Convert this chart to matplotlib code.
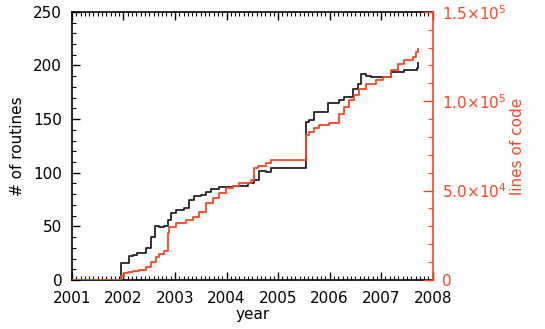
import numpy as np
import matplotlib
matplotlib.use("Agg")
import matplotlib.pyplot as plt
from matplotlib.ticker import MultipleLocator, FuncFormatter

# number of routines vs time (step changes)
routine_years = [2001.0, 2001.951, 2002.100, 2002.177, 2002.255, 2002.436, 2002.533,
                 2002.604, 2002.695, 2002.792, 2002.856, 2002.921, 2003.018, 2003.180,
                 2003.277, 2003.374, 2003.503, 2003.600, 2003.697, 2003.859, 2004.118,
                 2004.409, 2004.538, 2004.635, 2004.765, 2004.862, 2005.541, 2005.605,
                 2005.702, 2005.961, 2006.188, 2006.285, 2006.446, 2006.543, 2006.608,
                 2006.705, 2006.802, 2007.190, 2007.449, 2007.690, 2007.708]
routines = [0, 16, 22, 23, 25, 30, 40, 50, 49, 50, 56, 62, 65, 67, 75, 78, 79, 82, 85,
            87, 88, 90, 93, 102, 101, 104, 147, 149, 157, 165, 168, 171, 178, 183, 192,
            190, 189, 194, 196, 198, 202]

# lines of code vs time
loc_years = [2001.0, 2001.951, 2002.016, 2002.080, 2002.177, 2002.300, 2002.436,
             2002.533, 2002.630, 2002.695, 2002.792, 2002.856, 2002.889, 2003.018,
             2003.212, 2003.342, 2003.471, 2003.600, 2003.730, 2003.859, 2003.988,
             2004.118, 2004.247, 2004.376, 2004.473, 2004.538, 2004.603, 2004.765,
             2004.862, 2005.541, 2005.605, 2005.702, 2005.800, 2005.994, 2006.188,
             2006.285, 2006.382, 2006.479, 2006.576, 2006.705, 2006.899, 2007.029,
             2007.190, 2007.320, 2007.449, 2007.611, 2007.675, 2007.708]
lines_of_code = [0, 2200, 3700, 4700, 5200, 5600, 7500, 10200, 13000, 14500, 16400,
                 26500, 29800, 31700, 33500, 35400, 38200, 42800, 45600, 48800, 51200,
                 52500, 54000, 54400, 55900, 62400, 63700, 65200, 67000, 81000, 82900,
                 84800, 86600, 87900, 93100, 96900, 100600, 103400, 107100, 109900,
                 111800, 113300, 117400, 121100, 123000, 124800, 127600, 129000]

RED = "#ff4422"

plt.rcParams["font.family"] = "DejaVu Sans"
plt.rcParams["font.size"] = 11

fig = plt.figure(figsize=(5.45, 3.29), dpi=100)
ax = fig.add_axes([0.132, 0.149, 0.662, 0.815])
ax.step(routine_years, routines, where="post", color="#222222", lw=1.3, zorder=3)
ax.set_xlim(2001, 2008)
ax.set_ylim(0, 250)
ax.xaxis.set_major_locator(MultipleLocator(1))
ax.xaxis.set_minor_locator(MultipleLocator(1 / 12))
ax.yaxis.set_major_locator(MultipleLocator(50))
ax.yaxis.set_minor_locator(MultipleLocator(10))
ax.xaxis.set_major_formatter(FuncFormatter(lambda v, p: f"{int(round(v))}"))
ax.tick_params(which="both", direction="in", top=True, right=False)
ax.tick_params(which="major", length=6, width=1)
ax.tick_params(which="minor", length=3, width=0.8)
ax.tick_params(axis="x", which="major", pad=8)
ax.tick_params(axis="y", which="major", pad=7)
ax.set_xlabel("year", labelpad=1)
ax.set_ylabel("# of routines", labelpad=6)
for s in ("left", "bottom", "top"):
    ax.spines[s].set_linewidth(1.2)
ax.spines["right"].set_visible(False)

ax2 = ax.twinx()
ax2.step(loc_years, lines_of_code, where="post", color=RED, lw=1.3, zorder=2)
ax2.set_ylim(0, 1.5e5)
ax2.yaxis.set_major_locator(MultipleLocator(5e4))
ax2.yaxis.set_minor_locator(MultipleLocator(1e4))


def sci(v, pos):
    if v <= 0:
        return "0"
    e = int(np.floor(np.log10(v)))
    return f"{v / 10**e:.1f}$\\times$10$^{e}$"


ax2.yaxis.set_major_formatter(FuncFormatter(sci))
ax2.tick_params(which="both", direction="in", colors=RED, labelcolor=RED)
ax2.tick_params(which="major", length=7, width=1, pad=7)
ax2.tick_params(which="minor", length=3.5, width=0.8)
for s in ("left", "bottom", "top"):
    ax2.spines[s].set_visible(False)
ax2.spines["right"].set_color(RED)
ax2.spines["right"].set_linewidth(1.2)
ax2.set_ylabel("lines of code", color=RED, labelpad=2)

fig.savefig("out.png", dpi=100)
